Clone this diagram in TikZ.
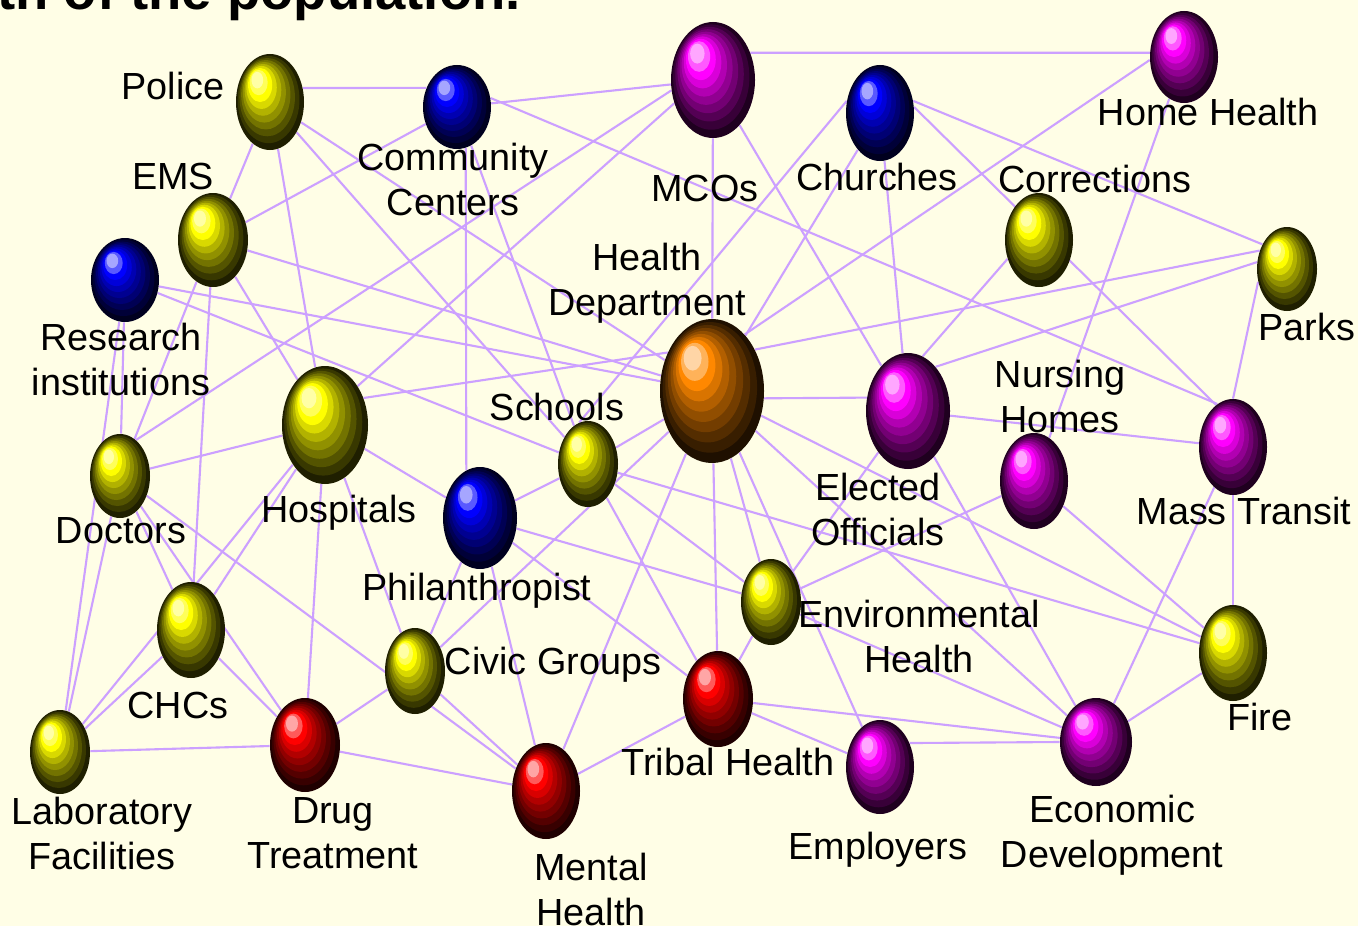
\documentclass[tikz,border=0pt]{standalone}
\usepackage{fontspec}
\setmainfont{Liberation Sans}
\usetikzlibrary{shapes.geometric}
\definecolor{paper}{RGB}{255,254,230}
\definecolor{tie}{RGB}{204,160,255}
\definecolor{ballyellow}{RGB}{255,255,0}
\definecolor{ballblue}{RGB}{0,0,255}
\definecolor{ballpink}{RGB}{255,0,255}
\definecolor{ballred}{RGB}{255,0,0}
\definecolor{ballorange}{RGB}{255,136,0}
% name/x/y/x radius/y radius/colour (pixels)
\def\hubs{police/270/102/34/48/ballyellow, community/457/107/34/42/ballblue,
	mcos/713/80/42/58/ballpink, homehealth/1184/57/34/46/ballpink,
	churches/880/113/34/48/ballblue, corrections/1039/240/34/47/ballyellow,
	parks/1287/269/30/42/ballyellow, ems/213/240/35/47/ballyellow,
	research/125/280/34/42/ballblue, healthdept/712/391/52/72/ballorange,
	hospitals/325/425/43/59/ballyellow, schools/588/464/30/43/ballyellow,
	doctors/120/476/30/42/ballyellow, philan/480/518/37/51/ballblue,
	elected/908/411/42/58/ballpink, nursing/1034/481/34/48/ballpink,
	transit/1233/447/34/48/ballpink, envhealth/771/602/30/43/ballyellow,
	fire/1233/653/34/48/ballyellow, chcs/191/630/34/48/ballyellow,
	civic/415/671/30/43/ballyellow, tribal/718/699/35/48/ballred,
	lab/60/752/30/42/ballyellow, drug/305/745/35/47/ballred,
	mental/546/791/34/48/ballred, employers/880/767/34/47/ballpink,
	econdev/1096/742/36/44/ballpink}
\begin{document}
\begin{tikzpicture}[x=0.02cm, y=-0.02cm, font=\fontsize{21.5}{25.5}\selectfont,
	link/.style={draw=tie, line width=1.2pt},
	lbl/.style={anchor=north, align=center, inner sep=0pt}]
%background
\useasboundingbox (0,0) rectangle (1358,926);
\fill[paper] (0,0) rectangle (1358,926);
\node[anchor=base west, inner sep=0pt, font=\fontsize{31}{36}\selectfont\bfseries] (title) at (-3,10) {th of the population.};
%nodes
\foreach \n/\x/\y/\rx/\ry/\col in \hubs
\node[ellipse, inner sep=0pt, minimum width=\rx*0.04cm, minimum height=\ry*0.04cm] (\n) at (\x,\y) {};
%links
\foreach \a/\b in {
	police/ems, police/hospitals, police/schools, police/healthdept,
	community/ems, community/mcos, community/schools,
	mcos/healthdept, mcos/elected,
	homehealth/nursing,
	churches/healthdept, churches/elected,
	ems/healthdept, ems/hospitals, ems/doctors, ems/chcs,
	research/healthdept, research/schools, research/doctors, research/lab,
	hospitals/doctors, hospitals/lab, hospitals/chcs, hospitals/philan,
	hospitals/civic, hospitals/drug,
	schools/healthdept, schools/philan, schools/envhealth, schools/fire, schools/tribal,
	doctors/lab, doctors/chcs, doctors/drug, doctors/mental,
	philan/civic, philan/mental, philan/envhealth, philan/tribal,
	healthdept/fire, healthdept/econdev, healthdept/employers, healthdept/tribal,
	healthdept/envhealth, healthdept/mental, healthdept/civic,
	elected/transit, elected/envhealth, elected/econdev,
	nursing/envhealth, nursing/fire,
	transit/fire, transit/econdev,
	envhealth/tribal, envhealth/econdev,
	fire/econdev,
	chcs/lab, chcs/drug,
	civic/drug, civic/mental,
	tribal/mental, tribal/employers, tribal/econdev,
	lab/drug, drug/mental}
\draw[link] (\a) -- (\b);
\draw[link] (police.23) -- (community.148);
\draw[link] (community.15) -- (transit.110);
\draw[link] (community.-78) -- (philan.106);
\draw[link] (mcos.36) -- (homehealth.173);
\draw[link] (doctors.66) -- (mcos.194);
\draw[link] (hospitals.50) -- (mcos.211);
\draw[link] (hospitals.35) -- (healthdept.139);
\draw[link] (healthdept.44) -- (parks.146);
\draw[link] (healthdept.60) -- (homehealth.185);
\draw[link] (healthdept.-8) -- (elected.162);
\draw[link] (schools.102) -- (churches.160);
\draw[link] (churches.20) -- (parks.135);
\draw[link] (churches.10) -- (transit.112);
\draw[link] (parks.167) -- (elected.58);
\draw[link] (parks.204) -- (transit.90);
\draw[link] (corrections.211) -- (elected.75);
\draw[link] (employers.39) -- (econdev.180);
%balls
\foreach \n/\x/\y/\rx/\ry/\col in \hubs
\foreach \k/\m in {0/\col!12!black, 1/\col!22!black, 2/\col!33!black, 3/\col!45!black,
	4/\col!57!black, 5/\col!70!black, 6/\col!85!black, 7/\col, 8/\col!65!white, 9/\col!35!white}{
	\pgfmathsetmacro\s{1-0.092*\k}
	\pgfmathsetmacro\a{\s*\rx*0.02}
	\pgfmathsetmacro\b{\s*\ry*0.02}
	\fill[fill=\m] ({\x+(\s-1)*0.45*\rx},{\y+(\s-1)*0.55*\ry}) ellipse (\a cm and \b cm);
}
%labels
\foreach \n/\x/\y/\t in {
	police/173/72/Police,
	community/453/143/{Community\\Centers},
	mcos/705/175/MCOs,
	homehealth/1208/98/Home Health,
	churches/877/163/Churches,
	corrections/1095/165/Corrections,
	parks/1307/313/Parks,
	ems/173/163/EMS,
	research/121/323/{Research\\institutions},
	healthdept/647/243/{Health\\Department},
	hospitals/339/495/Hospitals,
	schools/557/393/Schools,
	doctors/121/517/Doctors,
	philan/477/573/Philanthropist,
	elected/878/473/{Elected\\Officials},
	nursing/1060/360/{Nursing\\Homes},
	transit/1244/497/Mass Transit,
	envhealth/919/600/{Environmental\\Health},
	fire/1260/703/Fire,
	chcs/178/692/CHCs,
	civic/553/647/Civic Groups,
	tribal/728/748/Tribal Health,
	lab/102/797/{Laboratory\\Facilities},
	drug/333/797/{Drug\\Treatment},
	mental/591/853/{Mental\\Health},
	employers/878/832/Employers,
	econdev/1112/795/{Economic\\Development}}
\node[lbl] (\n-lbl) at (\x,\y) {\t};
\end{tikzpicture}
\end{document}
